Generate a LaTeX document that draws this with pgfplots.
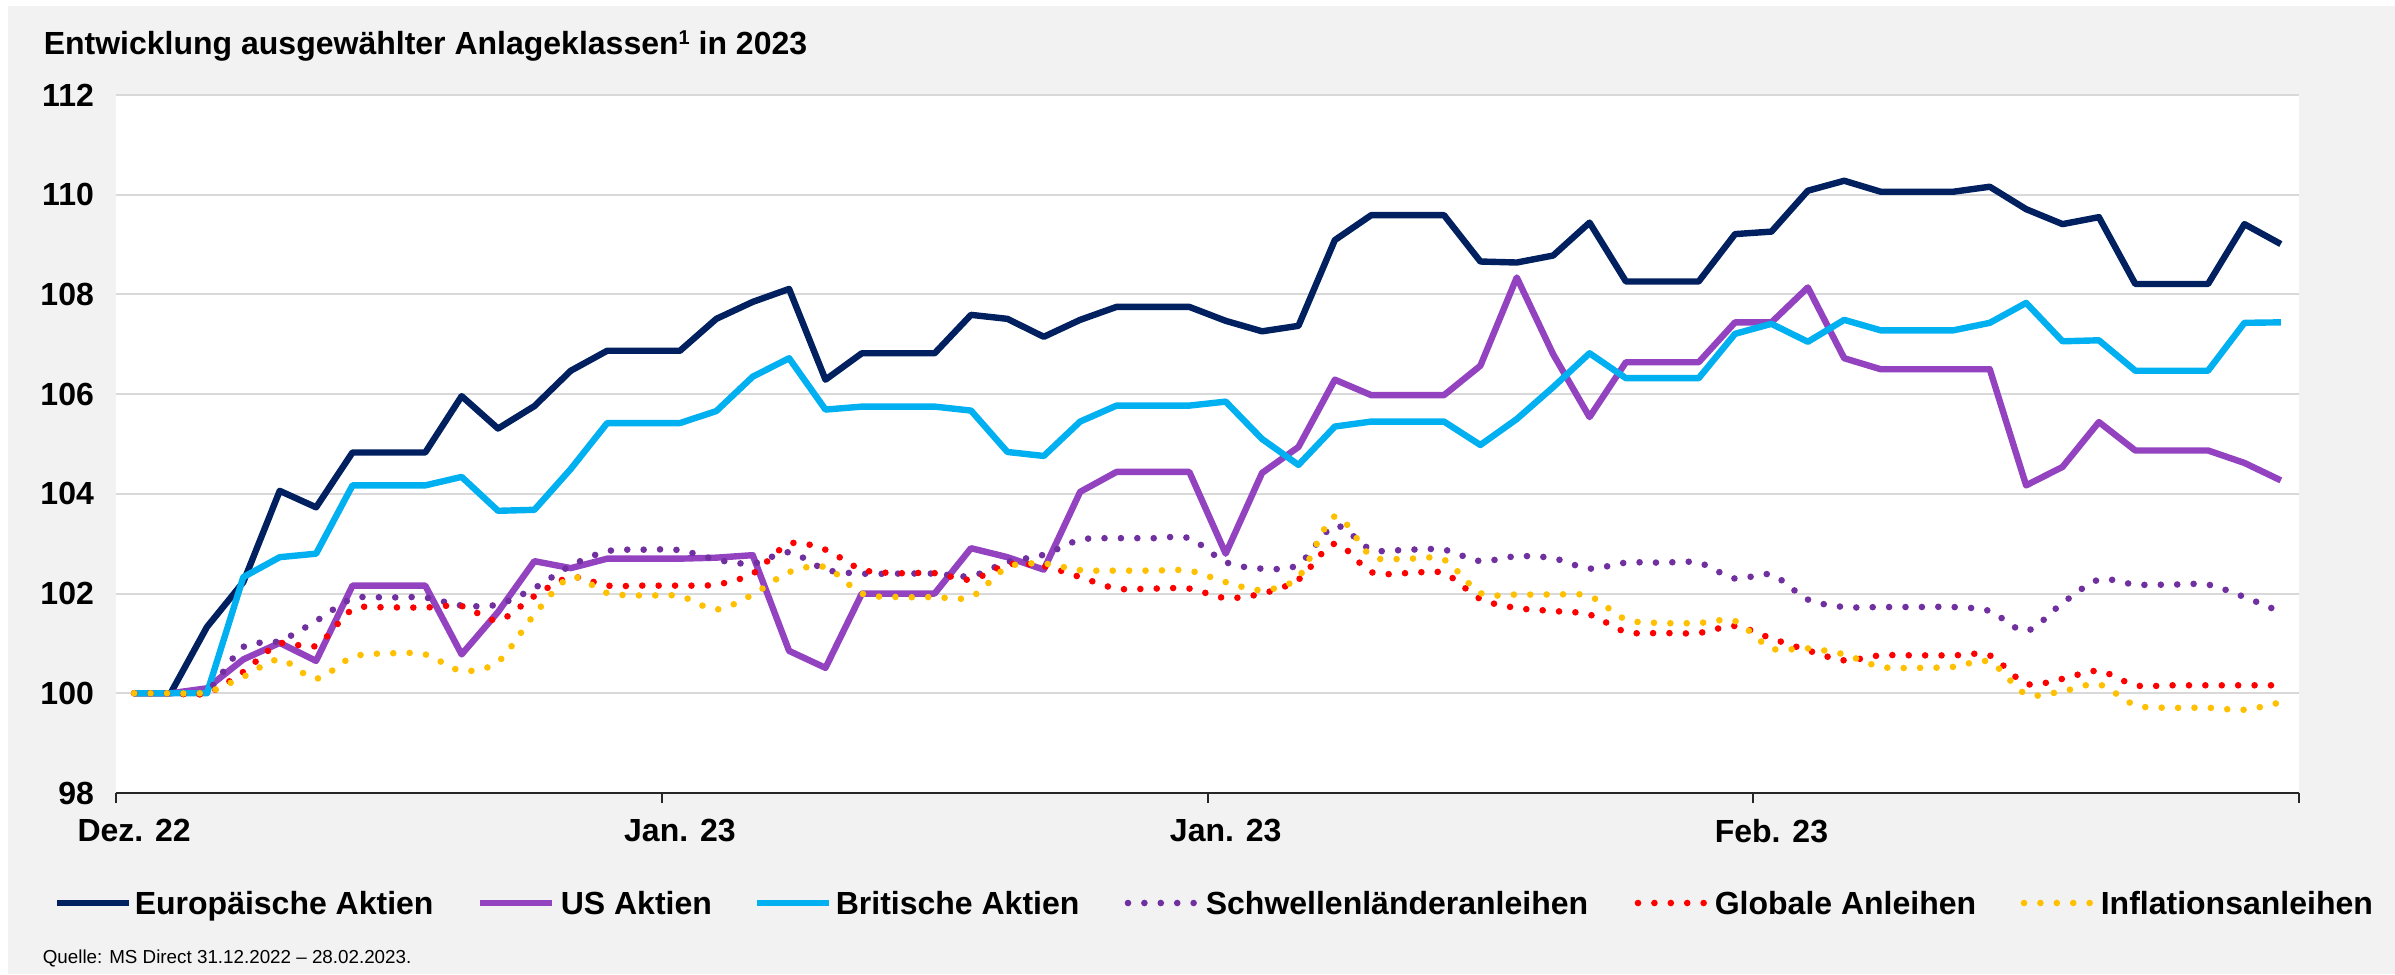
\documentclass[border=0pt]{standalone}
\usepackage{fontspec}
\setmainfont{Liberation Sans}
\usepackage{pgfplots}
\usepackage{pgfplotstable}
\pgfplotsset{compat=1.18}
\definecolor{bg}{HTML}{F2F2F2}
\definecolor{cEU}{HTML}{002060}
\definecolor{cUS}{HTML}{9343BF}
\definecolor{cUK}{HTML}{00B0F0}
\definecolor{cEM}{HTML}{7030A0}
\definecolor{cGL}{HTML}{FF0000}
\definecolor{cIN}{HTML}{FFC000}
\definecolor{gridc}{HTML}{D9D9D9}
\pgfplotstableread{
x E U B S G I
0 100 100 100 100 100 100
1 100 100 100 100 100 100
2 101.33 100.1 100 100.05 100 100.02
3 102.23 100.68 102.33 100.93 100.43 100.33
4 104.06 101.01 102.73 101.05 101.0 100.68
5 103.73 100.65 102.8 101.45 100.95 100.29
6 104.83 102.16 104.17 101.9 101.68 100.73
7 104.83 102.16 104.17 101.92 101.72 100.8
8 104.83 102.16 104.17 101.92 101.72 100.78
9 105.96 100.78 104.34 101.76 101.75 100.45
10 105.31 101.63 103.66 101.78 101.46 100.63
11 105.76 102.65 103.68 102.11 101.95 101.58
12 106.47 102.51 104.5 102.56 102.33 102.33
13 106.87 102.7 105.42 102.85 102.16 102.01
14 106.87 102.7 105.42 102.88 102.16 101.96
15 106.87 102.7 105.42 102.87 102.16 101.95
16 107.51 102.72 105.66 102.68 102.18 101.68
17 107.85 102.77 106.35 102.6 102.4 101.98
18 108.11 100.85 106.72 102.83 103.0 102.43
19 106.29 100.51 105.69 102.48 102.88 102.53
20 106.82 102.0 105.75 102.4 102.48 102.0
21 106.82 102.0 105.75 102.4 102.41 101.93
22 106.82 102.0 105.75 102.4 102.41 101.93
23 107.59 102.91 105.67 102.35 102.28 101.93
24 107.51 102.73 104.84 102.63 102.58 102.53
25 107.15 102.48 104.76 102.78 102.55 102.6
26 107.49 104.04 105.45 103.08 102.33 102.47
27 107.75 104.44 105.77 103.11 102.1 102.46
28 107.75 104.44 105.77 103.11 102.1 102.46
29 107.75 104.44 105.77 103.11 102.1 102.46
30 107.47 102.8 105.85 102.63 101.91 102.23
31 107.26 104.42 105.1 102.5 102.0 102.07
32 107.37 104.94 104.58 102.58 102.28 102.33
33 109.09 106.29 105.35 103.36 103.0 103.55
34 109.59 105.98 105.45 102.88 102.43 102.75
35 109.59 105.98 105.45 102.88 102.41 102.7
36 109.59 105.98 105.45 102.88 102.41 102.68
37 108.66 106.57 104.98 102.65 101.89 102.01
38 108.64 108.34 105.5 102.75 101.71 101.98
39 108.78 106.8 106.14 102.71 101.65 101.98
40 109.44 105.54 106.82 102.5 101.58 101.95
41 108.26 106.64 106.32 102.62 101.23 101.48
42 108.26 106.64 106.32 102.62 101.21 101.41
43 108.26 106.64 106.32 102.62 101.21 101.41
44 109.21 107.44 107.21 102.3 101.35 101.45
45 109.26 107.44 107.41 102.38 101.1 100.9
46 110.08 108.14 107.05 101.88 100.86 100.9
47 110.28 106.72 107.49 101.73 100.66 100.78
48 110.06 106.5 107.28 101.73 100.76 100.53
49 110.06 106.5 107.28 101.73 100.76 100.51
50 110.06 106.5 107.28 101.73 100.76 100.53
51 110.16 106.5 107.43 101.65 100.76 100.63
52 109.71 104.17 107.83 101.25 100.19 99.98
53 109.41 104.54 107.06 101.81 100.29 100.04
54 109.55 105.44 107.08 102.28 100.45 100.18
55 108.21 104.87 106.47 102.18 100.16 99.76
56 108.21 104.87 106.47 102.18 100.16 99.71
57 108.21 104.87 106.47 102.18 100.16 99.71
58 109.41 104.62 107.43 101.93 100.16 99.67
59 109.01 104.27 107.44 101.63 100.16 99.82
}\data
\tikzset{
  solid line/.style={line width=1.6pt, line join=round},
  dot line/.style={line width=1.65pt, line cap=round, dash pattern=on 0pt off 4.1pt},
  legtext/.style={anchor=base west, inner sep=0pt, font=\bfseries\fontsize{8}{9.6}\selectfont},
}
\begin{document}
\begin{tikzpicture}
\fill[white] (0pt,0pt) rectangle (598.75pt,243.5pt);
\fill[bg] (2pt,0pt) rectangle (598.75pt,242pt);
\path[use as bounding box] (0pt,0pt) rectangle (598.75pt,243.5pt);
\node[anchor=west, inner sep=0pt, font=\bfseries\fontsize{8}{9.6}\selectfont] at (10.75pt,232pt) {Entwicklung ausgewählter Anlageklassen\raisebox{2.6pt}{\fontsize{5}{6}\selectfont 1} in 2023};
\node[anchor=west, inner sep=0pt, font=\fontsize{4.7}{5.6}\selectfont] at (10.5pt,4pt) {Quelle: MS Direct 31.12.2022 – 28.02.2023.};
\begin{axis}[
  at={(29pt,45.25pt)}, anchor=south west,
  scale only axis, width=545.75pt, height=174.5pt,
  xmin=-0.5, xmax=59.5, ymin=98, ymax=112,
  axis background/.style={fill=white},
  axis x line*=bottom, axis y line*=left,
  x axis line style={-, draw=black!85, line width=0.5pt},
  y axis line style={draw=none},
  xtick={0,15,30,45},
  xticklabels={Dez. 22, Jan. 23, Jan. 23, Feb. 23},
  minor xtick={-0.5,14.5,29.5,44.5,59.5},
  major tick length=0pt,
  minor tick length=2.5pt,
  tick align=outside,
  xtick style={draw=none},
  minor x tick style={draw=black!85, line width=0.5pt},
  ytick={98,100,...,112},
  ytick style={draw=none},
  ymajorgrids,
  grid style={gridc, line width=0.5pt},
  /pgf/number format/assume math mode=true,
  ticklabel style={font=\bfseries\fontsize{8}{9.6}\selectfont},
  xticklabel style={yshift=-3pt},
  yticklabel style={xshift=-2pt},
]
\addplot[cEU, solid line] table[x=x,y=E] {\data};
\addplot[cUS, solid line] table[x=x,y=U] {\data};
\addplot[cUK, solid line] table[x=x,y=B] {\data};
\addplot[cEM, dot line, smooth, tension=0.5] table[x=x,y=S] {\data};
\addplot[cGL, dot line, smooth, tension=0.5] table[x=x,y=G] {\data};
\addplot[cIN, dot line, smooth, tension=0.5] table[x=x,y=I] {\data};
\end{axis}
% legend
\draw[cEU, solid line] (14.25pt,17.75pt) -- ++(18pt,0pt);
\node[legtext] at (33.5pt,14.9pt) {Europäische Aktien};
\draw[cUS, solid line] (120pt,17.75pt) -- ++(18pt,0pt);
\node[legtext] at (140pt,14.9pt) {US Aktien};
\draw[cUK, solid line] (189.25pt,17.75pt) -- ++(18pt,0pt);
\node[legtext] at (208.75pt,14.9pt) {Britische Aktien};
\draw[cEM, dot line] (282pt,17.75pt) -- ++(17pt,0pt);
\node[legtext] at (301.25pt,14.9pt) {Schwellenländeranleihen};
\draw[cGL, dot line] (409.5pt,17.75pt) -- ++(17pt,0pt);
\node[legtext] at (428.5pt,14.9pt) {Globale Anleihen};
\draw[cIN, dot line] (506pt,17.75pt) -- ++(17pt,0pt);
\node[legtext] at (525pt,14.9pt) {Inflationsanleihen};
\end{tikzpicture}
\end{document}
